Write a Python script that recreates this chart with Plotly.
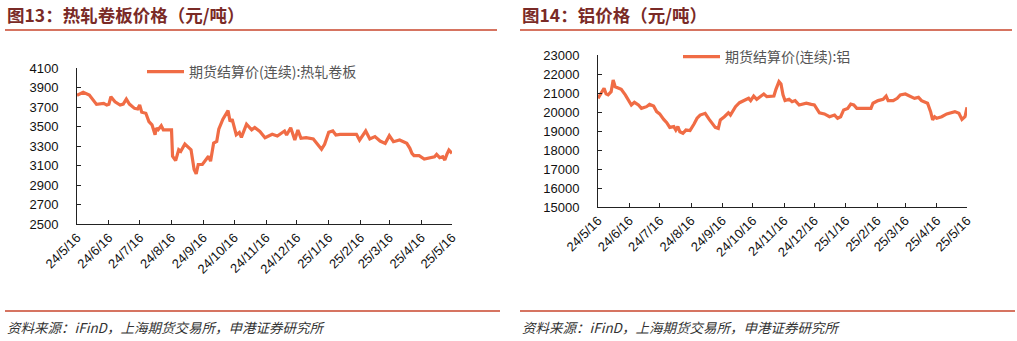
import plotly.graph_objects as go

# 热轧卷板期货结算价(连续)，元/吨
hrc_dates = [
    "2024-05-16", "2024-05-22", "2024-05-28", "2024-06-01", "2024-06-04", "2024-06-11",
    "2024-06-14", "2024-06-16", "2024-06-18", "2024-06-22", "2024-06-27", "2024-06-30",
    "2024-07-03", "2024-07-06", "2024-07-11", "2024-07-14", "2024-07-16", "2024-07-18",
    "2024-07-22", "2024-07-25", "2024-07-28", "2024-07-31", "2024-08-01", "2024-08-03",
    "2024-08-06", "2024-08-08", "2024-08-16", "2024-08-17", "2024-08-20", "2024-08-23",
    "2024-08-25", "2024-08-29", "2024-09-02", "2024-09-04", "2024-09-07", "2024-09-09",
    "2024-09-11", "2024-09-15", "2024-09-21", "2024-09-23", "2024-09-26", "2024-09-29",
    "2024-10-01", "2024-10-05", "2024-10-10", "2024-10-12", "2024-10-14", "2024-10-15",
    "2024-10-18", "2024-10-21", "2024-10-23", "2024-10-28", "2024-11-02", "2024-11-05",
    "2024-11-10", "2024-11-15", "2024-11-22", "2024-11-27", "2024-12-04", "2024-12-06",
    "2024-12-10", "2024-12-14", "2024-12-17", "2024-12-20", "2024-12-25", "2025-01-01",
    "2025-01-06", "2025-01-09", "2025-01-12", "2025-01-16", "2025-01-20", "2025-01-23",
    "2025-01-27", "2025-02-12", "2025-02-15", "2025-02-21", "2025-02-25", "2025-03-02",
    "2025-03-07", "2025-03-12", "2025-03-16", "2025-03-20", "2025-03-26", "2025-04-02",
    "2025-04-05", "2025-04-07", "2025-04-09", "2025-04-14", "2025-04-19", "2025-04-24",
    "2025-04-29", "2025-05-01", "2025-05-04", "2025-05-07", "2025-05-09", "2025-05-11",
    "2025-05-13", "2025-05-16",
]
hrc_prices = [
    3820, 3850, 3822, 3771, 3727, 3737,
    3720, 3727, 3805, 3754, 3720, 3730,
    3781, 3730, 3686, 3680, 3720, 3646,
    3636, 3551, 3517, 3415, 3483, 3466,
    3507, 3466, 3466, 3195, 3150, 3262,
    3245, 3320, 3280, 3262, 3059, 3015,
    3110, 3110, 3195, 3144, 3330, 3347,
    3473, 3575, 3663, 3551, 3575, 3534,
    3415, 3439, 3388, 3524, 3466, 3490,
    3449, 3385, 3420, 3403, 3454, 3413,
    3488, 3361, 3464, 3379, 3385, 3372,
    3310, 3266, 3317, 3440, 3454, 3413,
    3420, 3420, 3361, 3454, 3372, 3396,
    3351, 3327, 3406, 3344, 3361, 3327,
    3276, 3225, 3201, 3201, 3167, 3180,
    3190, 3214, 3180, 3190, 3156, 3214,
    3259, 3225,
]

# 铝期货结算价(连续)，元/吨
al_dates = [
    "2024-05-16", "2024-05-19", "2024-05-22", "2024-05-24", "2024-05-26", "2024-05-29",
    "2024-05-31", "2024-06-02", "2024-06-06", "2024-06-08", "2024-06-12", "2024-06-15",
    "2024-06-18", "2024-06-21", "2024-06-25", "2024-06-28", "2024-07-03", "2024-07-06",
    "2024-07-10", "2024-07-13", "2024-07-16", "2024-07-20", "2024-07-23", "2024-07-26",
    "2024-07-30", "2024-08-01", "2024-08-03", "2024-08-05", "2024-08-08", "2024-08-11",
    "2024-08-15", "2024-08-19", "2024-08-22", "2024-08-25", "2024-08-30", "2024-09-03",
    "2024-09-06", "2024-09-09", "2024-09-12", "2024-09-14", "2024-09-18", "2024-09-22",
    "2024-09-24", "2024-09-29", "2024-10-03", "2024-10-07", "2024-10-12", "2024-10-14",
    "2024-10-17", "2024-10-20", "2024-10-23", "2024-10-27", "2024-10-30", "2024-11-06",
    "2024-11-08", "2024-11-11", "2024-11-13", "2024-11-15", "2024-11-17", "2024-11-21",
    "2024-11-24", "2024-11-27", "2024-12-01", "2024-12-08", "2024-12-13", "2024-12-16",
    "2024-12-21", "2024-12-26", "2024-12-31", "2025-01-05", "2025-01-08", "2025-01-11",
    "2025-01-14", "2025-01-18", "2025-01-21", "2025-01-24", "2025-01-27", "2025-02-10",
    "2025-02-12", "2025-02-17", "2025-02-22", "2025-02-25", "2025-02-27", "2025-03-04",
    "2025-03-08", "2025-03-11", "2025-03-16", "2025-03-21", "2025-03-25", "2025-03-29",
    "2025-04-01", "2025-04-07", "2025-04-10", "2025-04-12", "2025-04-14", "2025-04-16",
    "2025-04-21", "2025-04-26", "2025-04-29", "2025-05-04", "2025-05-08", "2025-05-11",
    "2025-05-14", "2025-05-16",
]
al_prices = [
    20720, 20980, 21250, 20950, 20900, 21070,
    21680, 21330, 21250, 21190, 20900, 20600,
    20370, 20510, 20370, 20190, 20280, 20400,
    20320, 20020, 19900, 19610, 19440, 19190,
    19230, 19050, 19230, 18960, 18880, 19050,
    19020, 19370, 19670, 19840, 19930, 19610,
    19400, 19190, 19140, 19580, 19750, 19960,
    19840, 20280, 20490, 20600, 20720, 20600,
    20840, 20670, 20770, 20950, 20810, 20840,
    21190, 21600, 21470, 20900, 20600, 20670,
    20540, 20600, 20370, 20460, 20400, 20370,
    19960, 19900, 19750, 19840, 19670, 19750,
    20110, 20190, 20420, 20370, 20190, 20190,
    20460, 20600, 20670, 20840, 20600, 20600,
    20720, 20900, 20950, 20810, 20720, 20770,
    20600, 20460, 20020, 19580, 19750, 19670,
    19750, 19900, 19960, 20020, 19930, 19610,
    19750, 20250,
]

tick_dates = [
    "2024-05-16", "2024-06-16", "2024-07-16", "2024-08-16", "2024-09-16", "2024-10-16",
    "2024-11-16", "2024-12-16", "2025-01-16", "2025-02-16", "2025-03-16", "2025-04-16",
    "2025-05-16",
]
tick_labels = [
    "24/5/16", "24/6/16", "24/7/16", "24/8/16", "24/9/16", "24/10/16",
    "24/11/16", "24/12/16", "25/1/16", "25/2/16", "25/3/16", "25/4/16", "25/5/16",
]

hrc_yticks = [2500, 2700, 2900, 3100, 3300, 3500, 3700, 3900, 4100]
al_yticks = [15000, 16000, 17000, 18000, 19000, 20000, 21000, 22000, 23000]

titles = ["图13：热轧卷板价格（元/吨）", "图14：铝价格（元/吨）"]
source_text = "资料来源：iFinD，上海期货交易所，申港证券研究所"

W, H = 1017, 341
LINE_COLOR = "#F06C45"
RULE_COLOR = "#C8462C"
TITLE_COLOR = "#7A2A26"
CJK = "Noto Sans CJK SC"
NUM = "Liberation Sans, Arial"


def px_x(v):
    return v / W


def px_y(v):
    return 1 - v / H


fig = go.Figure()

fig.add_trace(go.Scatter(
    x=hrc_dates, y=hrc_prices, mode="lines",
    name="期货结算价(连续):热轧卷板",
    line=dict(color=LINE_COLOR, width=3.2),
    xaxis="x", yaxis="y", legend="legend",
))
fig.add_trace(go.Scatter(
    x=al_dates, y=al_prices, mode="lines",
    name="期货结算价(连续):铝",
    line=dict(color=LINE_COLOR, width=3.2),
    xaxis="x2", yaxis="y2", legend="legend2",
))

xaxis_common = dict(
    type="date",
    range=[tick_dates[0], tick_dates[-1]],
    tickmode="array", tickvals=tick_dates, ticktext=tick_labels,
    tickangle=-45,
    ticks="inside", ticklen=4, tickcolor="#222", tickwidth=1,
    showline=True, linecolor="#222", linewidth=1,
    showgrid=False, zeroline=False, automargin=False,
    tickfont=dict(family=NUM, size=13, color="#111"),
)
yaxis_common = dict(
    tickmode="array",
    ticks="inside", ticklen=4, tickcolor="#222", tickwidth=1,
    showline=True, linecolor="#222", linewidth=1,
    showgrid=False, zeroline=False, automargin=False,
    tickformat="d",
    tickfont=dict(family=NUM, size=13, color="#111"),
    ticklabelstandoff=15,
)

legend_common = dict(
    xanchor="left", yanchor="middle", itemwidth=37,
    bgcolor="rgba(0,0,0,0)", borderwidth=0,
    font=dict(family=CJK, size=14, color="#555"),
)

fig.update_layout(
    width=W, height=H,
    margin=dict(l=0, r=0, t=0, b=0, autoexpand=False),
    paper_bgcolor="white", plot_bgcolor="white",
    xaxis=dict(xaxis_common, domain=[px_x(77), px_x(452)], anchor="y"),
    yaxis=dict(yaxis_common, domain=[px_y(224), px_y(68)], range=[2500, 4100],
               tickvals=hrc_yticks, anchor="x"),
    xaxis2=dict(xaxis_common, domain=[px_x(598), px_x(967)], anchor="y2"),
    yaxis2=dict(yaxis_common, domain=[px_y(207), px_y(55)], range=[15000, 23000],
                tickvals=al_yticks, anchor="x2"),
    legend=dict(legend_common, x=px_x(142), y=px_y(72)),
    legend2=dict(legend_common, x=px_x(678), y=px_y(57)),
    showlegend=True,
)

# titles, rules and source notes for both panels
panels = [(5, 497), (520, 1012)]
for (x0, x1), title in zip(panels, titles):
    fig.add_annotation(
        x=px_x(x0), y=px_y(15), xref="paper", yref="paper",
        xanchor="left", yanchor="middle", showarrow=False,
        text="<b>" + title + "</b>",
        font=dict(family=CJK, size=17.5, color=TITLE_COLOR),
    )
    fig.add_shape(type="line", xref="paper", yref="paper",
                  x0=px_x(x0), x1=px_x(x1), y0=px_y(30), y1=px_y(30),
                  line=dict(color=RULE_COLOR, width=1.5))
    fig.add_shape(type="line", xref="paper", yref="paper",
                  x0=px_x(x0), x1=px_x(x1 + 3), y0=px_y(311), y1=px_y(311),
                  line=dict(color=RULE_COLOR, width=1.5))
    fig.add_annotation(
        x=px_x(x0), y=px_y(327), xref="paper", yref="paper",
        xanchor="left", yanchor="middle", showarrow=False,
        text="<i>" + source_text + "</i>",
        font=dict(family=CJK, size=13.5, color="#333"),
    )

fig.write_html("out.html")
